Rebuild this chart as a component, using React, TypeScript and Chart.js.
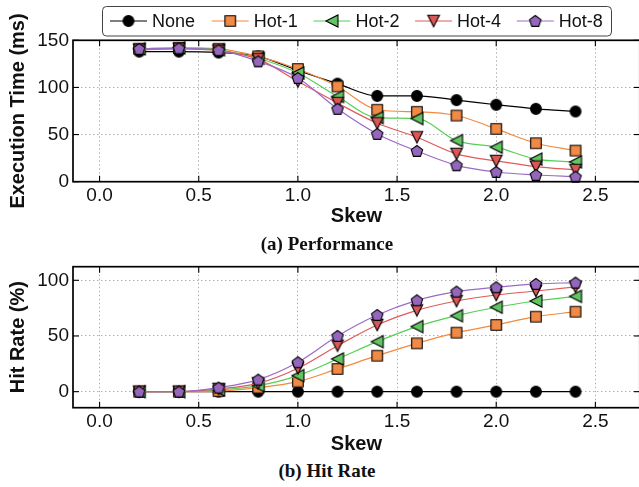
import React, { useEffect, useRef } from 'react';
import { Chart, registerables } from 'chart.js';

Chart.register(...registerables);

// ---------- data ----------
const skew = [0.2, 0.4, 0.6, 0.8, 1.0, 1.2, 1.4, 1.6, 1.8, 2.0, 2.2, 2.4];

const seriesNames = ['None', 'Hot-1', 'Hot-2', 'Hot-4', 'Hot-8'];
const markerKinds = ['circle', 'square', 'tleft', 'tdown', 'pentagon'];
const fillColors = ['#000000', '#F08A46', '#62C462', '#D95757', '#9467BD'];
const lineColors = ['#000000', '#F5883C', '#55D055', '#E05A5A', '#9A6AC8'];

const execNone = [138, 138, 137, 133, 118, 104, 91, 91, 86.6, 81.6, 77.3, 74.5];
const execHot1 = [141, 142, 141, 133, 119.6, 101, 76.3, 74.1, 70.2, 56, 40.8, 33];
const execHot2 = [141, 142, 140, 131, 115.3, 90.4, 68, 67, 43.6, 36.6, 24, 21];
const execHot4 = [140, 141, 139, 130, 106.4, 83.4, 62, 47.2, 29.5, 22, 16, 12.4];
const execHot8 = [140.8, 141.5, 139.5, 127.7, 110, 77.3, 50.7, 32.6, 17.4, 10.3, 7.1, 5.3];

const hitNone = [0, 0, 0, 0, 0, 0, 0, 0, 0, 0, 0, 0];
const hitHot1 = [0, 0, 0.5, 3.6, 9, 20.4, 32.3, 43.4, 53, 59.9, 67.3, 71.8];
const hitHot2 = [0, 0, 1.5, 5.4, 14.4, 29.4, 44.9, 58.4, 68.2, 75.8, 81.4, 85.6];
const hitHot4 = [0, 0, 2.5, 7.5, 21, 41.3, 59.9, 73, 81.4, 86.8, 90.4, 94];
const hitHot8 = [0, 0, 3.6, 10.8, 26.4, 50, 68.8, 82, 89.8, 93.7, 96.7, 97.9];

const xTicks = [0, 0.5, 1.0, 1.5, 2.0, 2.5];
const execTicks = [0, 50, 100, 150];
const hitTicks = [0, 50, 100];

const xTitle = 'Skew';
const execTitle = 'Execution Time (ms)';
const hitTitle = 'Hit Rate (%)';
const captionA = '(a) Performance';
const captionB = '(b) Hit Rate';

const SANS = "'Liberation Sans', Arial, Helvetica, sans-serif";
const SERIF = "'Liberation Serif', 'Times New Roman', serif";

// ---------- markers ----------
function makeMarker(kind: string, fill: string): HTMLCanvasElement {
  const size = 18;
  const c = document.createElement('canvas');
  c.width = size;
  c.height = size;
  const g = c.getContext('2d')!;
  const cx = size / 2;
  const cy = size / 2;
  g.fillStyle = fill;
  g.strokeStyle = '#000';
  g.lineWidth = 1.1;
  g.beginPath();
  if (kind === 'circle') {
    g.arc(cx, cy, 5.4, 0, Math.PI * 2);
  } else if (kind === 'square') {
    g.rect(cx - 5.3, cy - 5.3, 10.6, 10.6);
  } else if (kind === 'tleft') {
    const s = 6;
    g.moveTo(cx - s, cy);
    g.lineTo(cx + s, cy - s);
    g.lineTo(cx + s, cy + s);
    g.closePath();
  } else if (kind === 'tdown') {
    const s = 5.8;
    g.moveTo(cx - s, cy - s);
    g.lineTo(cx + s, cy - s);
    g.lineTo(cx, cy + s);
    g.closePath();
  } else {
    const R = 6;
    for (let k = 0; k < 5; k++) {
      const a = -Math.PI / 2 + (k * 2 * Math.PI) / 5;
      const px = cx + R * Math.cos(a);
      const py = cy + 0.5 + R * Math.sin(a);
      if (k === 0) g.moveTo(px, py);
      else g.lineTo(px, py);
    }
    g.closePath();
  }
  g.fill();
  g.stroke();
  return c;
}

// ---------- plugins ----------
const framePlugin = {
  id: 'frameTicks',
  afterDatasetsDraw(chart: any) {
    const { ctx, chartArea: a, scales } = chart;
    const line = (x1: number, y1: number, x2: number, y2: number) => {
      ctx.beginPath();
      ctx.moveTo(x1, y1);
      ctx.lineTo(x2, y2);
      ctx.stroke();
    };
    ctx.save();
    ctx.strokeStyle = '#000';
    ctx.lineWidth = 1.1;
    const L = 6;
    scales.x.ticks.forEach((t: any) => {
      const px = scales.x.getPixelForValue(t.value);
      line(px, a.bottom, px, a.bottom - L);
      line(px, a.top, px, a.top + L);
    });
    scales.y.ticks.forEach((t: any) => {
      const py = scales.y.getPixelForValue(t.value);
      line(a.left, py, a.left + L, py);
      line(a.right, py, a.right - L, py);
    });
    ctx.lineWidth = 1.7;
    ctx.strokeRect(a.left, a.top, a.right - a.left, a.bottom - a.top);
    ctx.restore();
  },
};

const legendPlugin = {
  id: 'boxLegend',
  afterDraw(chart: any) {
    const { ctx } = chart;
    const datasets = chart.data.datasets;
    ctx.save();
    const bx = 102.5, by = 6.5, bw = 509, bh = 29.5, r = 4;
    ctx.beginPath();
    ctx.moveTo(bx + r, by);
    ctx.lineTo(bx + bw - r, by);
    ctx.arcTo(bx + bw, by, bx + bw, by + r, r);
    ctx.lineTo(bx + bw, by + bh - r);
    ctx.arcTo(bx + bw, by + bh, bx + bw - r, by + bh, r);
    ctx.lineTo(bx + r, by + bh);
    ctx.arcTo(bx, by + bh, bx, by + bh - r, r);
    ctx.lineTo(bx, by + r);
    ctx.arcTo(bx, by, bx + r, by, r);
    ctx.closePath();
    ctx.fillStyle = 'rgba(255,255,255,0.9)';
    ctx.fill();
    ctx.strokeStyle = '#444';
    ctx.lineWidth = 1;
    ctx.stroke();
    const yc = 21;
    datasets.forEach((ds: any, i: number) => {
      const x0 = 110 + i * 101.7;
      ctx.strokeStyle = ds.borderColor;
      ctx.lineWidth = 1.2;
      ctx.beginPath();
      ctx.moveTo(x0, yc);
      ctx.lineTo(x0 + 37, yc);
      ctx.stroke();
      const m = ds.pointStyle as HTMLCanvasElement;
      ctx.drawImage(m, x0 + 18.5 - m.width / 2, yc - m.height / 2);
      ctx.fillStyle = '#111';
      ctx.font = `18px ${SANS}`;
      ctx.textBaseline = 'middle';
      ctx.textAlign = 'left';
      ctx.fillText(ds.label, x0 + 42, yc + 1);
    });
    ctx.restore();
  },
};

// ---------- config ----------
function buildConfig(
  series: number[][],
  markers: HTMLCanvasElement[],
  yMin: number,
  yMax: number,
  yTicks: number[],
  yTitle: string,
  padTop: number,
  xAxisHeight: number,
  titlePadBottom: number,
  withLegend: boolean
): any {
  const datasets = series.map((vals, i) => ({
    label: seriesNames[i],
    data: skew.map((x, j) => ({ x, y: vals[j] })),
    borderColor: lineColors[i],
    backgroundColor: fillColors[i],
    borderWidth: 1.2,
    pointStyle: markers[i],
    pointRadius: 6,
    pointHoverRadius: 6,
    cubicInterpolationMode: 'monotone',
    order: series.length - i,
    clip: false,
  }));
  return {
    type: 'line',
    data: { datasets },
    options: {
      animation: false,
      responsive: true,
      maintainAspectRatio: false,
      events: [],
      layout: { padding: { top: padTop, left: 0, right: 2, bottom: 0 } },
      plugins: {
        legend: { display: false },
        tooltip: { enabled: false },
        title: { display: false },
      },
      scales: {
        x: {
          type: 'linear',
          min: -0.134,
          max: 2.724,
          afterBuildTicks: (s: any) => {
            s.ticks = xTicks.map((v) => ({ value: v }));
          },
          afterFit: (s: any) => {
            s.height = xAxisHeight;
            s.paddingLeft = 0;
            s.paddingRight = 0;
          },
          ticks: {
            autoSkip: false,
            maxRotation: 0,
            padding: 3,
            color: '#111',
            font: { family: SANS, size: 19 },
            callback: (v: any) => Number(v).toFixed(1),
          },
          grid: { color: '#b0b0b0', lineWidth: 1, drawTicks: false },
          border: { display: false, dash: [1.5, 2.5] },
          title: {
            display: true,
            text: xTitle,
            color: '#111',
            font: { family: SANS, size: 20, weight: 'bold' },
            padding: { top: 0, bottom: titlePadBottom },
          },
        },
        y: {
          type: 'linear',
          min: yMin,
          max: yMax,
          afterBuildTicks: (s: any) => {
            s.ticks = yTicks.map((v) => ({ value: v }));
          },
          afterFit: (s: any) => {
            s.width = 73;
          },
          ticks: {
            autoSkip: false,
            padding: 4,
            color: '#111',
            font: { family: SANS, size: 19 },
            callback: (v: any) => String(v),
          },
          grid: { color: '#b0b0b0', lineWidth: 1, drawTicks: false },
          border: { display: false, dash: [1.5, 2.5] },
          title: {
            display: true,
            text: yTitle,
            color: '#111',
            font: { family: SANS, size: 20, weight: 'bold' },
            padding: { top: 6, bottom: 0 },
          },
        },
      },
    },
    plugins: withLegend ? [framePlugin, legendPlugin] : [framePlugin],
  };
}

const captionStyle: React.CSSProperties = {
  position: 'absolute',
  left: 327,
  transform: 'translateX(-50%)',
  whiteSpace: 'nowrap',
  fontFamily: SERIF,
  fontWeight: 'bold',
  fontSize: 19,
  lineHeight: '22px',
  color: '#111',
};

const CANVAS_W = 647;

export default function App() {
  const ref1 = useRef<HTMLCanvasElement>(null);
  const ref2 = useRef<HTMLCanvasElement>(null);

  useEffect(() => {
    document.body.style.margin = '0';
    const markers = markerKinds.map((k, i) => makeMarker(k, fillColors[i]));
    const c1 = new Chart(
      ref1.current!,
      buildConfig(
        [execNone, execHot1, execHot2, execHot4, execHot8],
        markers,
        0,
        150,
        execTicks,
        execTitle,
        40.3,
        230 - 181.7,
        2,
        true
      )
    );
    const c2 = new Chart(
      ref2.current!,
      buildConfig(
        [hitNone, hitHot1, hitHot2, hitHot4, hitHot8],
        markers,
        -14.4,
        112.2,
        hitTicks,
        hitTitle,
        16.7,
        458 - 407.7,
        1.5,
        false
      )
    );
    return () => {
      c1.destroy();
      c2.destroy();
    };
  }, []);

  return (
    <div style={{ position: 'relative', width: 639, height: 487, overflow: 'hidden', background: '#fff' }}>
      <div style={{ position: 'absolute', left: 0, top: 0, width: CANVAS_W, height: 230 }}>
        <canvas ref={ref1} />
      </div>
      <div style={{ position: 'absolute', left: 0, top: 250, width: CANVAS_W, height: 208 }}>
        <canvas ref={ref2} />
      </div>
      <div style={{ ...captionStyle, top: 233 }}>{captionA}</div>
      <div style={{ ...captionStyle, top: 460 }}>{captionB}</div>
    </div>
  );
}
